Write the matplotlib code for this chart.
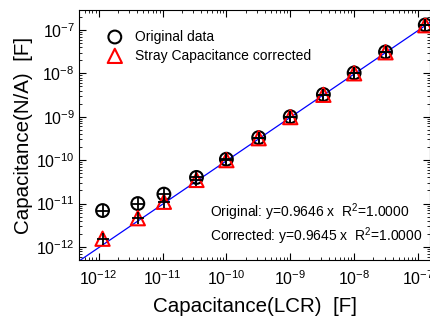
import numpy as np
import matplotlib
matplotlib.use("Agg")
import matplotlib.pyplot as plt

plt.rcParams['font.family'] = ['Liberation Sans', 'DejaVu Sans']
plt.rcParams['mathtext.fontset'] = 'custom'
plt.rcParams['mathtext.rm'] = 'Liberation Sans'
plt.rcParams['mathtext.it'] = 'Liberation Sans:italic'

x_lcr = [1.15e-12, 4.1e-12, 1.05e-11, 3.4e-11, 1.0e-10, 3.2e-10, 1.0e-9, 3.3e-9, 1.0e-8, 3.1e-8, 1.3e-7]
y_original = [6.9e-12, 1.0e-11, 1.65e-11, 4.0e-11, 1.05e-10, 3.3e-10, 1.0e-9, 3.25e-9, 1.02e-8, 3.1e-8, 1.3e-7]
y_corrected = [1.55e-12, 4.6e-12, 1.1e-11, 3.5e-11, 1.0e-10, 3.2e-10, 0.98e-9, 3.2e-9, 1.0e-8, 3.05e-8, 1.28e-7]
slope_original = 0.9646
slope_corrected = 0.9645
r2_original = 1.0000
r2_corrected = 1.0000

fig = plt.figure(figsize=(4.31, 3.2), dpi=100)
ax = fig.add_axes([0.183, 0.1875, 0.815, 0.7815])
ax.set_xscale('log')
ax.set_yscale('log')
xlim = (10**-12.31, 10**-6.81)
ylim = (10**-12.3, 10**-6.54)

xf = np.logspace(np.log10(xlim[0]), np.log10(xlim[1]), 50)
ax.plot(xf, slope_corrected * xf, color='blue', lw=0.9, zorder=1)

ax.scatter(x_lcr, y_original, s=85, facecolors='none', edgecolors='black', linewidths=1.5,
           marker='o', label='Original data', zorder=3)
ax.scatter(x_lcr, y_corrected, s=105, facecolors='none', edgecolors='red', linewidths=1.5,
           marker='^', label='Stray Capacitance corrected', zorder=3)
ax.scatter(x_lcr, y_original, s=85, color='black', marker='+', linewidths=1.3, zorder=4)
ax.scatter(x_lcr, y_corrected, s=85, color='black', marker='+', linewidths=1.3, zorder=4)

ax.set_xlim(*xlim)
ax.set_ylim(*ylim)

ax.tick_params(which='both', direction='in', top=True, right=True, labelsize=11.5)
ax.tick_params(which='major', length=5, width=0.8)
ax.tick_params(which='minor', length=2.5, width=0.6)
ax.xaxis.set_major_locator(matplotlib.ticker.LogLocator(base=10, numticks=20))
ax.yaxis.set_major_locator(matplotlib.ticker.LogLocator(base=10, numticks=20))
ax.xaxis.set_minor_locator(matplotlib.ticker.LogLocator(base=10, subs=np.arange(2, 10), numticks=20))
ax.yaxis.set_minor_locator(matplotlib.ticker.LogLocator(base=10, subs=np.arange(2, 10), numticks=20))
ax.xaxis.set_minor_formatter(matplotlib.ticker.NullFormatter())
ax.yaxis.set_minor_formatter(matplotlib.ticker.NullFormatter())
ax.tick_params(axis='x', pad=7)
ax.tick_params(axis='y', pad=3)

ax.set_xlabel('Capacitance(LCR)  [F]', fontsize=14.8, labelpad=6)
ax.set_ylabel('Capacitance(N/A)  [F]', fontsize=14.8, labelpad=2)

leg = ax.legend(loc='upper left', frameon=False, fontsize=10, handletextpad=0.7,
                borderaxespad=0.3, bbox_to_anchor=(0.045, 0.96), labelspacing=0.35,
                handlelength=1.5, scatterpoints=1)

ax.text(0.372, 0.19, f'Original: y={slope_original:.4f} x  R$^2$={r2_original:.4f}',
        transform=ax.transAxes, fontsize=10, va='center')
ax.text(0.372, 0.096, f'Corrected: y={slope_corrected:.4f} x  R$^2$={r2_corrected:.4f}',
        transform=ax.transAxes, fontsize=10, va='center')

fig.savefig('out.png', dpi=100)
